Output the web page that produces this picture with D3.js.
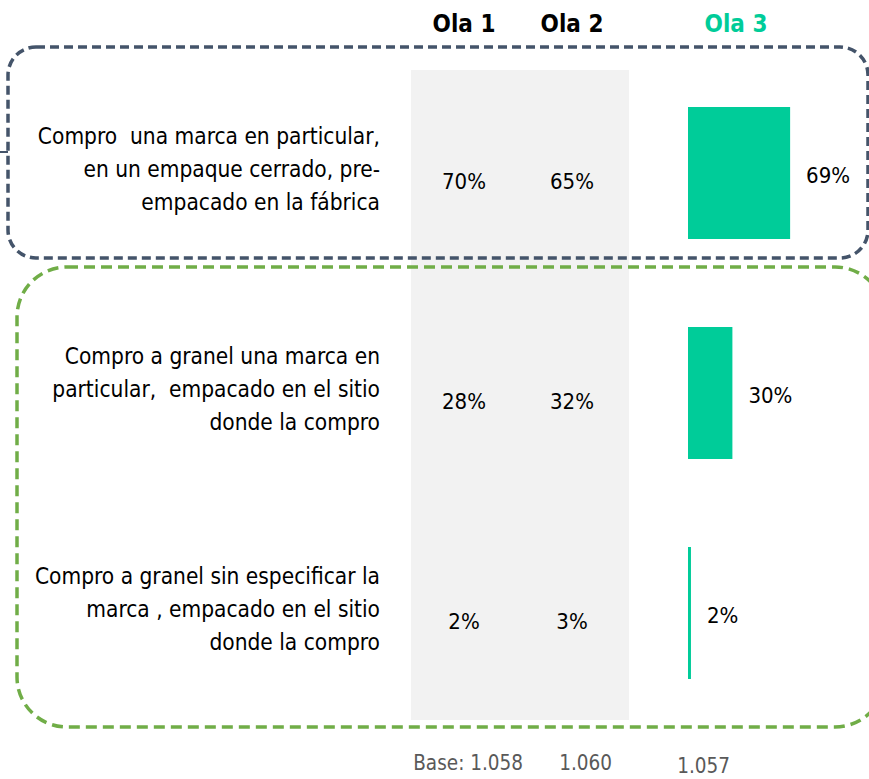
<!DOCTYPE html>
<html>
<head>
<meta charset="utf-8">
<script src="https://cdn.jsdelivr.net/npm/d3@7"></script>
<style>
  body { margin: 0; background: #fff; }
  text { font-family: "DejaVu Sans Condensed", "DejaVu Sans", sans-serif; white-space: pre; }
</style>
</head>
<body>
<div id="chart"></div>
<script>
// data
var waves = ["Ola 1", "Ola 2", "Ola 3"];
var categories = [
  ["Compro  una marca en particular,", "en un empaque cerrado, pre-", "empacado en la fábrica"],
  ["Compro a granel una marca en", "particular,  empacado en el sitio", "donde la compro"],
  ["Compro a granel sin especificar la", "marca , empacado en el sitio", "donde la compro"]
];
var ola1 = [70, 28, 2];
var ola2 = [65, 32, 3];
var ola3 = [69, 30, 2];
var bases = ["Base: 1.058", "1.060", "1.057"];

var width = 869, height = 779;
var green = "#00CC99";

var svg = d3.select("#chart").append("svg")
  .attr("width", width)
  .attr("height", height);

var y = d3.scaleBand()
  .domain(d3.range(categories.length))
  .range([63, 723])
  .paddingInner(0.4)
  .paddingOuter(0.2);

var x = d3.scaleLinear().domain([0, 100]).range([688, 836]);

// columns for the old waves
var colX = [464, 572];

// gray band behind Ola 1 / Ola 2
svg.append("rect")
  .attr("x", 411).attr("y", 70)
  .attr("width", 218).attr("height", 650)
  .attr("fill", "#F2F2F2");

// dashed group boxes
svg.append("rect")
  .attr("x", 8).attr("y", 47).attr("width", 860).attr("height", 211)
  .attr("rx", 28)
  .attr("fill", "none").attr("stroke", "#44546A")
  .attr("stroke-width", 3.5).attr("stroke-dasharray", "9,5");
svg.append("line")
  .attr("x1", 0).attr("x2", 8).attr("y1", 152).attr("y2", 152)
  .attr("stroke", "#44546A").attr("stroke-width", 2);

svg.append("rect")
  .attr("x", 17).attr("y", 267).attr("width", 868).attr("height", 460)
  .attr("rx", 50)
  .attr("fill", "none").attr("stroke", "#70AD47")
  .attr("stroke-width", 3.5).attr("stroke-dasharray", "11,6");

// headers
svg.selectAll("text.head")
  .data(waves)
  .enter().append("text")
  .attr("class", "head")
  .attr("x", function(d, i) { return i < 2 ? colX[i] : 736; })
  .attr("y", 32)
  .attr("text-anchor", "middle")
  .attr("font-size", 24)
  .attr("font-weight", "bold")
  .attr("fill", function(d, i) { return i == 2 ? green : "#000"; })
  .text(function(d) { return d; });

// category labels
var cat = svg.selectAll("g.cat")
  .data(categories)
  .enter().append("g")
  .attr("class", "cat");
cat.selectAll("text")
  .data(function(d, i) { return d.map(function(t, j) { return {t: t, j: j, i: i}; }); })
  .enter().append("text")
  .attr("x", 380)
  .attr("y", function(d) { return y(d.i) + y.bandwidth() / 2 + (d.j - 1) * 33 + 4; })
  .attr("text-anchor", "end")
  .attr("font-size", 22.5)
  .attr("fill", "#000")
  .text(function(d) { return d.t; });

// Ola 1 and Ola 2 values
[ola1, ola2].forEach(function(arr, k) {
  svg.selectAll("text.v" + k)
    .data(arr)
    .enter().append("text")
    .attr("class", "v" + k)
    .attr("x", colX[k])
    .attr("y", function(d, i) { return y(i) + y.bandwidth() / 2 + 16; })
    .attr("text-anchor", "middle")
    .attr("font-size", 22)
    .text(function(d) { return d + "%"; });
});

// Ola 3 bars
svg.selectAll("rect.bar")
  .data(ola3)
  .enter().append("rect")
  .attr("class", "bar")
  .attr("x", x(0))
  .attr("y", function(d, i) { return y(i); })
  .attr("width", function(d) { return x(d) - x(0); })
  .attr("height", y.bandwidth())
  .attr("fill", green);

svg.selectAll("text.bl")
  .data(ola3)
  .enter().append("text")
  .attr("class", "bl")
  .attr("x", function(d) { return x(d) + 16; })
  .attr("y", function(d, i) { return y(i) + y.bandwidth() / 2 + 10; })
  .attr("font-size", 22)
  .text(function(d) { return d + "%"; });

// bases
var baseX = [523, 612, 730], baseY = [770, 770, 773];
svg.selectAll("text.base")
  .data(bases)
  .enter().append("text")
  .attr("class", "base")
  .attr("x", function(d, i) { return baseX[i]; })
  .attr("y", function(d, i) { return baseY[i]; })
  .attr("text-anchor", "end")
  .attr("font-size", 20.5)
  .attr("fill", "#595959")
  .text(function(d) { return d; });
</script>
</body>
</html>
